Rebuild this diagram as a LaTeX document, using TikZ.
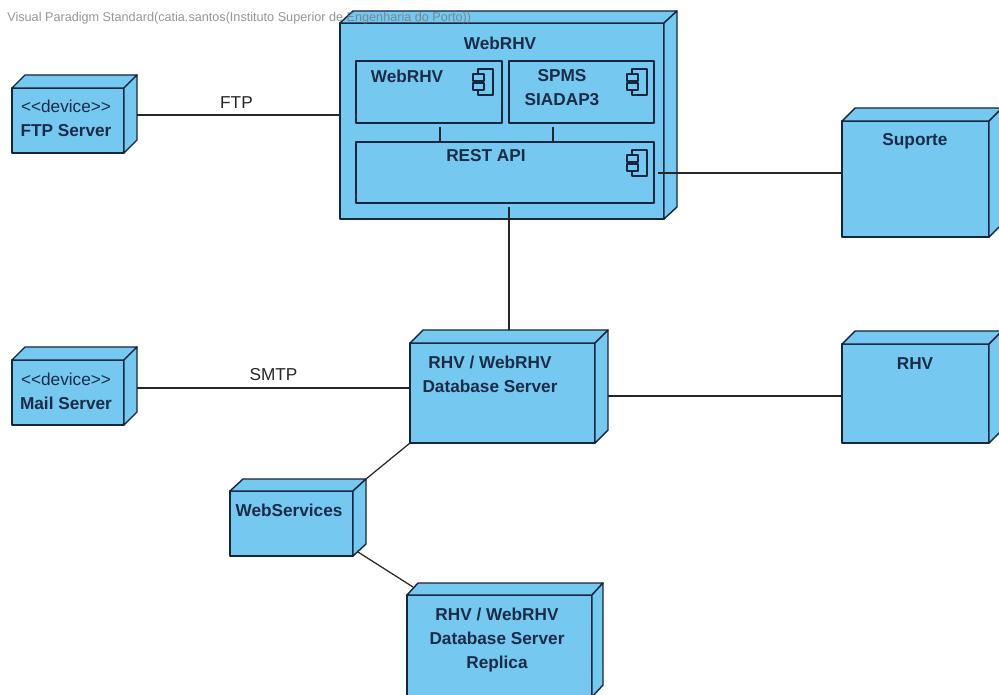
\documentclass[tikz,border=0pt]{standalone}
\usepackage{fontspec}
\setmainfont{Liberation Sans}
\usepackage{xcolor}
\usetikzlibrary{positioning,calc}
\definecolor{nodeblue}{HTML}{75C8F0}
\definecolor{nodeline}{HTML}{16263F}
\definecolor{nodetext}{HTML}{1B2C48}
% side and top faces of a node, depth in px
\newcommand{\extrude}[3]{%
 \draw[face] (#1.north west) -- ++(#2,-#3) -- ++($(#1.north east)-(#1.north west)$) -- (#1.north east) -- cycle;
 \draw[face] (#1.north east) -- ++(#2,-#3) -- ++($(#1.south east)-(#1.north east)$) -- (#1.south east) -- cycle;
}

\begin{document}
\begin{tikzpicture}[x=0.02cm,y=-0.02cm,font=\fontsize{9.8}{13.6}\selectfont,
 face/.style={draw=nodeline,fill=nodeblue,line width=0.8pt,line join=round},
 nd/.style={face,anchor=north west,inner sep=0pt,outer sep=0pt},
 box/.style 2 args={minimum width=#1*0.02cm,minimum height=#2*0.02cm},
 lbl/.style={text=nodetext,font=\fontsize{9.8}{13.6}\selectfont\bfseries,align=center,inner sep=0pt},
 lnk/.style={draw=black!85,line width=0.7pt},
 edgelbl/.style={text=black!85,inner sep=0pt}]
\useasboundingbox (0,0) rectangle (999,695);
\fill[white] (0,0) rectangle (999,695);
% nodes
\node[nd,box={112}{65}] (ftp) at (12,88) {};
\extrude{ftp}{13}{13}
\node[nd,box={324}{196}] (web) at (340,23) {};
\extrude{web}{13}{12}
\node[nd,box={147}{116}] (sup) at (842,121) {};
\extrude{sup}{13}{13}
\node[nd,box={112}{65}] (mail) at (12,360) {};
\extrude{mail}{13}{13}
\node[nd,box={185}{100}] (db) at (410,343) {};
\extrude{db}{13}{13}
\node[nd,box={147}{99}] (rhv) at (842,344) {};
\extrude{rhv}{13}{13}
\node[nd,box={123}{65}] (ws) at (230,491) {};
\extrude{ws}{13}{12}
\node[nd,box={185}{102}] (rep) at (407,595) {};
\extrude{rep}{11}{12}
% components
\node[nd,box={146}{62}] (webcomp) at (356,61) {};
\node[nd,box={145}{62}] (spms) at (509,61) {};
\node[nd,box={298}{61}] (rest) at (356,142) {};
\foreach \ix/\iy in {478/69,632/69,632/150}{
 \draw[face] (\ix,\iy) rectangle ++(15,26);
 \draw[face] (\ix-5,\iy+5) rectangle ++(11,7);
 \draw[face] (\ix-5,\iy+14) rectangle ++(11,7);
}
% ports
\coordinate (ftpport) at (137,115);
\coordinate (mailport) at (137,388);
\coordinate (webport) at (440,127);
\coordinate (spmsport) at (553,127);
\coordinate (restport) at (658,173);
\coordinate (apiport) at (509,207);
\coordinate (dbtop) at (509,330);
\coordinate (dbport) at (608,396);
\coordinate (wstop) at (366,479);
\coordinate (wsport) at (358,552);
\coordinate (reptop) at (413,587);
% connectors
\draw[lnk] (ftpport) -- node[edgelbl,pos=0.49,above=3.5pt]{FTP} (ftpport -| web.west);
\draw[lnk] (mailport) -- node[edgelbl,pos=0.5,above=4pt]{SMTP} (mailport -| db.west);
\draw[lnk] (webport) -- (webport |- rest.north);
\draw[lnk] (spmsport) -- (spmsport |- rest.north);
\draw[lnk] (restport) -- (restport -| sup.west);
\draw[lnk] (apiport) -- (dbtop);
\draw[lnk] (dbport) -- (dbport -| rhv.west);
\draw[lnk] (db.south west) -- (wstop);
\draw[lnk] (wsport) -- (reptop);
% names
\node[lbl,font=\fontsize{9.8}{13.6}\selectfont] (ftpname) at (66,118) {\mbox{<{}<device>{}>}\\\textbf{FTP Server}};
\node[lbl,font=\fontsize{9.8}{13.6}\selectfont] (mailname) at (66,391) {\mbox{<{}<device>{}>}\\\textbf{Mail Server}};
\node[lbl] (webname) at (500,43) {WebRHV};
\node[lbl] (webcompname) at (407,76) {WebRHV};
\node[lbl] (spmsname) at (562,88) {SPMS\\SIADAP3};
\node[lbl] (restname) at (486,156) {REST API};
\node[lbl] (supname) at (915,141) {Suporte};
\node[lbl] (dbname) at (490,374) {RHV / WebRHV\\Database Server};
\node[lbl] (rhvname) at (915,364) {RHV};
\node[lbl] (wsname) at (289,510) {WebServices};
\node[lbl] (repname) at (497,640) {RHV / WebRHV\\Database Server\\Replica};
% watermark
\node[anchor=west,inner sep=0pt,text=black!55,opacity=0.75,font=\fontsize{7.2}{8}\selectfont] (mark) at (7,18) {Visual Paradigm Standard(catia.santos(Instituto Superior de Engenharia do Porto))};
\end{tikzpicture}
\end{document}
